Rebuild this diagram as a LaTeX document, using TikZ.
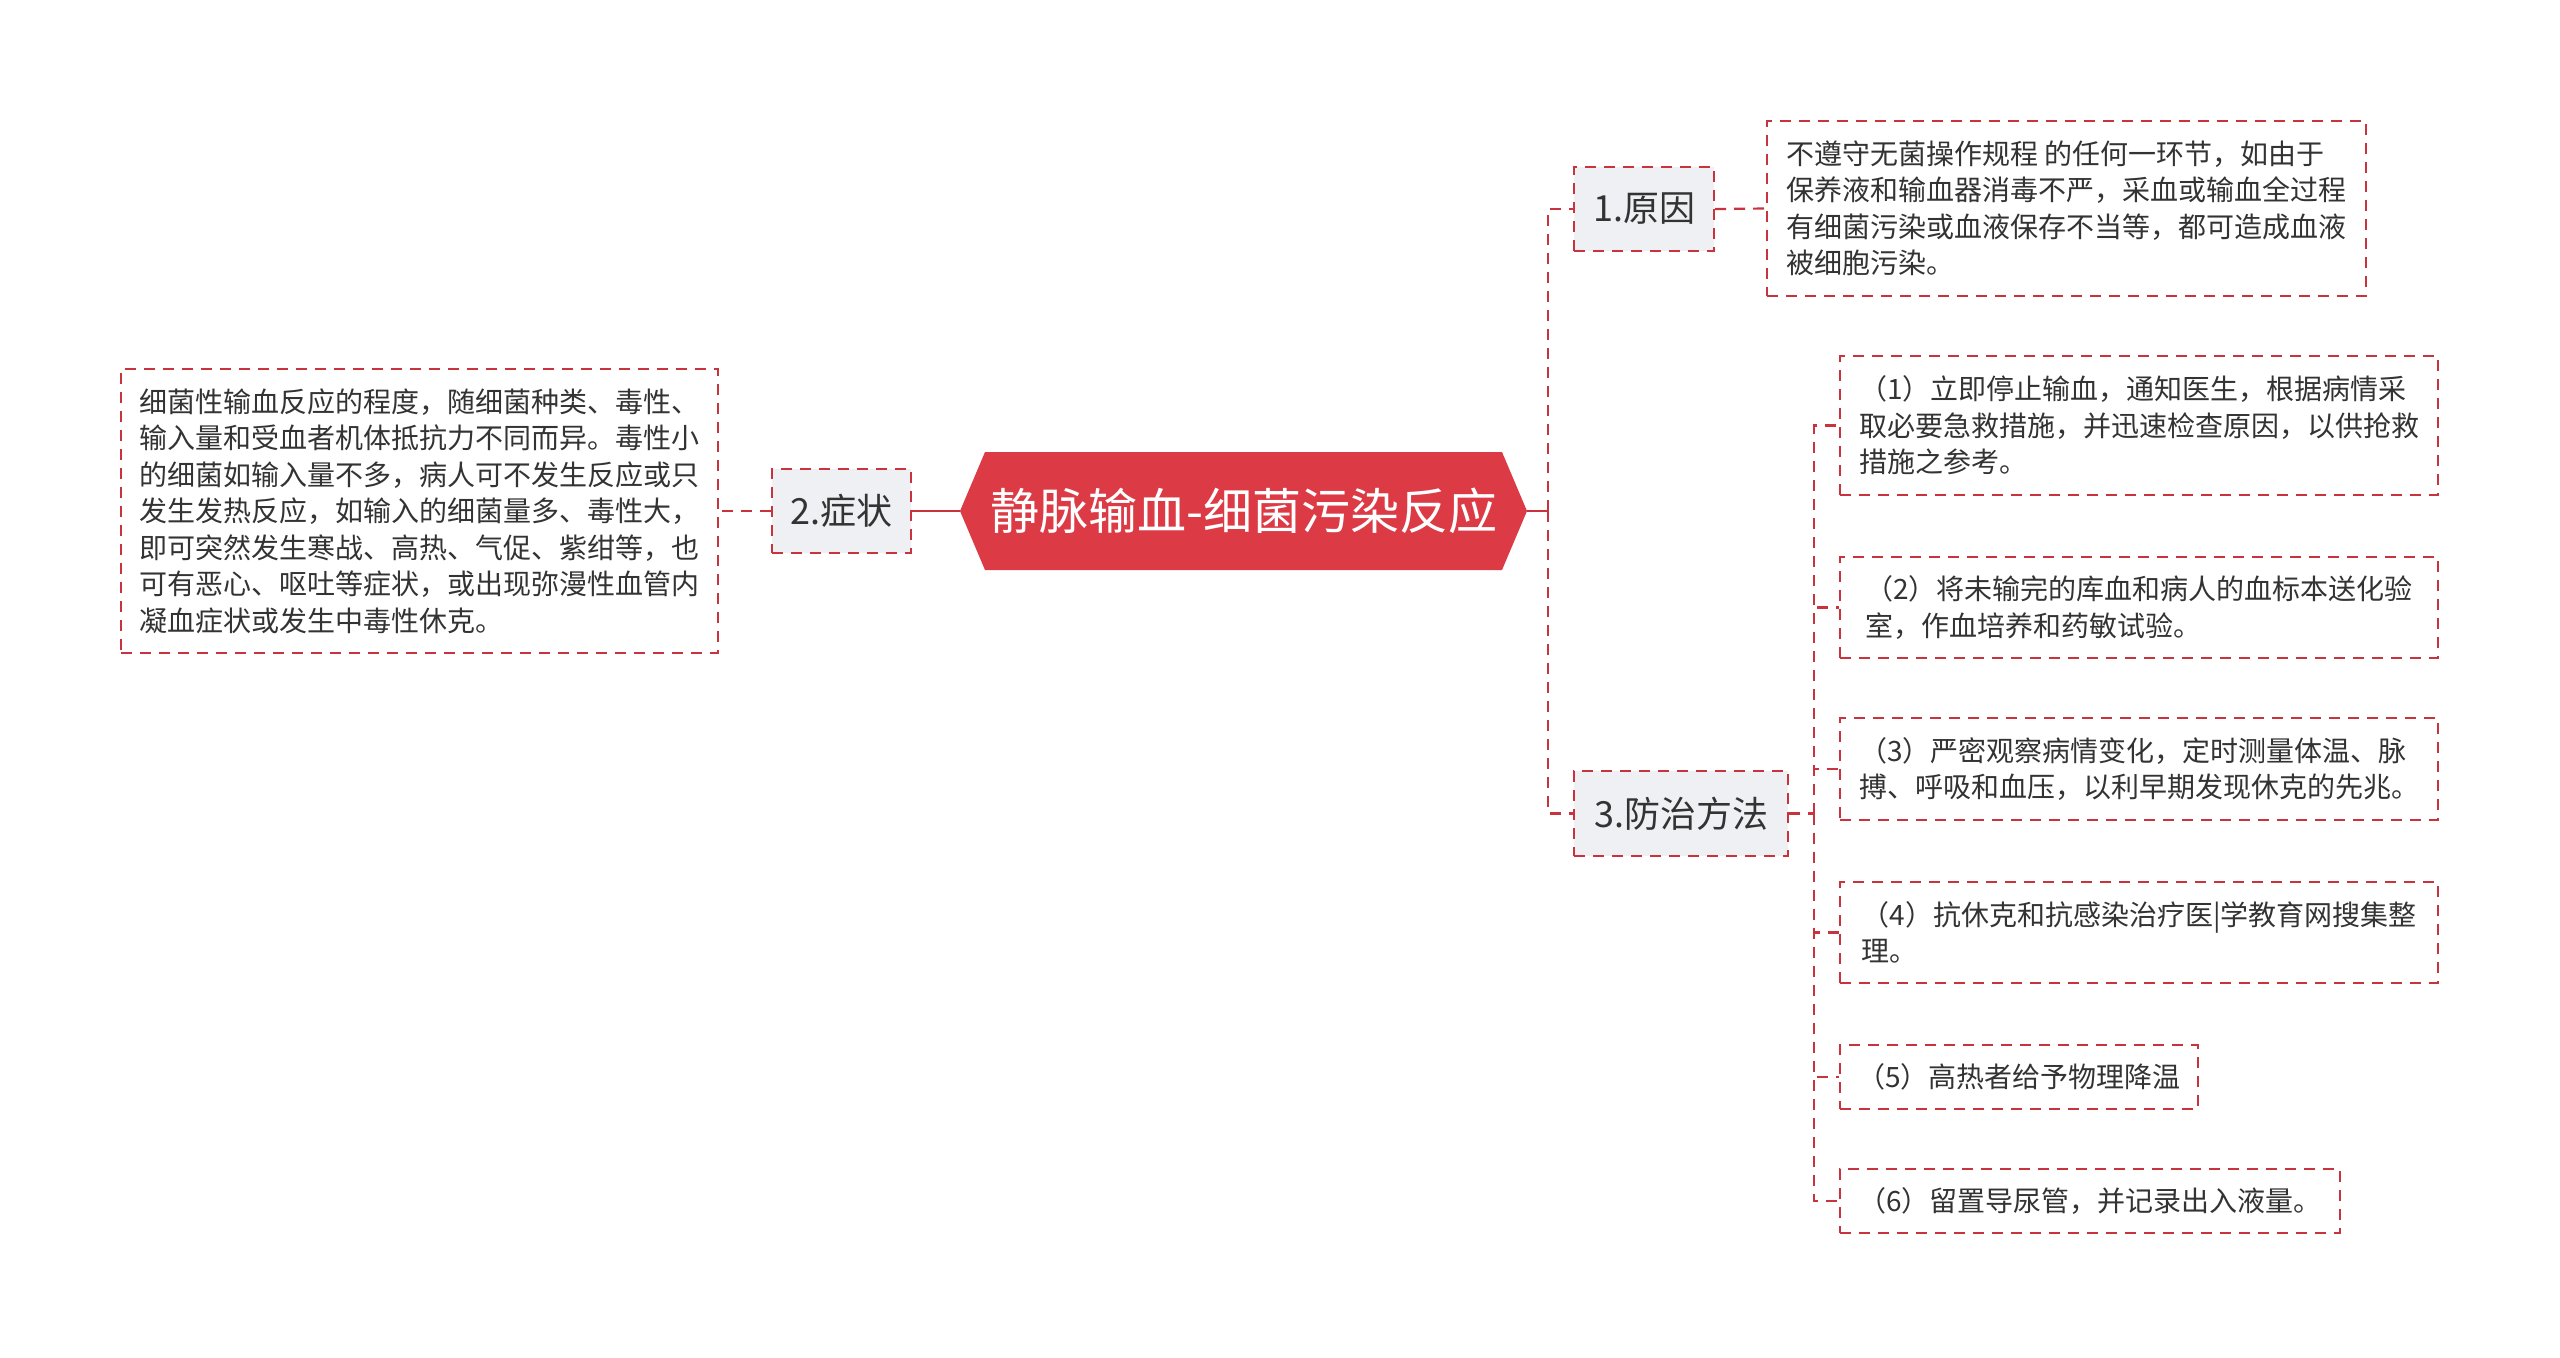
\documentclass[tikz,border=0pt]{standalone}
\usepackage{fontspec}
\setmainfont{Noto Sans CJK SC}
\definecolor{dred}{HTML}{C8333E}
\definecolor{mred}{HTML}{DC3B46}
\definecolor{lgray}{HTML}{EEF0F4}
\definecolor{txt}{HTML}{333333}
\tikzset{
  ddash/.style={draw=dred, line width=1.1pt, dash pattern=on 5.5pt off 4pt},
  topic/.style={ddash, fill=lgray, inner sep=0pt, font=\fontsize{18}{22}\selectfont, text=txt},
  leaf/.style={ddash, fill=white, inner sep=0pt, align=left, font=\fontsize{14}{18.25}\selectfont, text=txt},
  link/.style={draw=dred, line width=1.1pt, dash pattern=on 5.5pt off 4pt},
  solidlink/.style={draw=dred, line width=1.2pt},
}
\begin{document}
\begin{tikzpicture}[x=0.5pt,y=-0.5pt]
\useasboundingbox[fill=white] (0,0) rectangle (2560,1357);

% central hexagon
\fill[mred] (960,511) -- (985,452) -- (1502,452) -- (1527,511) -- (1502,570) -- (985,570) -- cycle;
\node[inner sep=0pt, minimum width=283.5pt, minimum height=59pt, text=white,
      font=\fontsize{24.5}{28}\selectfont] (main) at (1243.5,511) {静脉输血-细菌污染反应};

% level 1
\node[topic, minimum width=70pt, minimum height=42pt] (cause) at (1644,209) {1.原因};
\node[topic, minimum width=69.5pt, minimum height=42pt] (sym) at (841.5,511) {2.症状};
\node[topic, minimum width=107pt, minimum height=42.5pt] (prev) at (1681,813.5) {3.防治方法};

% leaves
\node[leaf, minimum width=299.5pt, minimum height=87.5pt] (cbox) at (2066.5,208.5)
 {不遵守无菌操作规程~的任何一环节，如由于\\保养液和输血器消毒不严，采血或输血全过程\\有细菌污染或血液保存不当等，都可造成血液\\被细胞污染。};
\node[leaf, minimum width=298.5pt, minimum height=142pt] (lbox) at (419.5,511)
 {细菌性输血反应的程度，随细菌种类、毒性、\\输入量和受血者机体抵抗力不同而异。毒性小\\的细菌如输入量不多，病人可不发生反应或只\\发生发热反应，如输入的细菌量多、毒性大，\\即可突然发生寒战、高热、气促、紫绀等，也\\可有恶心、呕吐等症状，或出现弥漫性血管内\\凝血症状或发生中毒性休克。};
\node[leaf, minimum width=299pt, minimum height=69.5pt] (p1) at (2139,425.5)
 {（1）立即停止输血，通知医生，根据病情采\\取必要急救措施，并迅速检查原因，以供抢救\\措施之参考。};
\node[leaf, minimum width=299pt, minimum height=50.5pt] (p2) at (2139,607.5)
 {（2）将未输完的库血和病人的血标本送化验\\室，作血培养和药敏试验。};
\node[leaf, minimum width=299pt, minimum height=51pt] (p3) at (2139,769)
 {（3）严密观察病情变化，定时测量体温、脉\\搏、呼吸和血压，以利早期发现休克的先兆。};
\node[leaf, minimum width=299pt, minimum height=50.5pt] (p4) at (2139,932.5)
 {（4）抗休克和抗感染治疗医|学教育网搜集整\\理。};
\node[leaf, minimum width=179pt, minimum height=32pt] (p5) at (2019,1077)
 {（5）高热者给予物理降温};
\node[leaf, minimum width=250pt, minimum height=32pt] (p6) at (2090,1201)
 {（6）留置导尿管，并记录出入液量。};

% connectors
\coordinate (trunk) at (1548,511);
\coordinate (trunk2) at (1814,813.5);
\draw[solidlink] (main.west) -- (sym.east);
\draw[link] (sym.west) -- (lbox.east);
\draw[solidlink] (main.east) -- (trunk);
\draw[link] (trunk) |- (cause.west);
\draw[link] (trunk) |- (prev.west);
\draw[link] (cause.east) -- (cbox.west);
\draw[link] (prev.east) -- (trunk2);
\foreach \n in {p1,p2,p3,p4,p5,p6} {
  \draw[link] (trunk2) |- (\n.west);
}
\end{tikzpicture}
\end{document}
